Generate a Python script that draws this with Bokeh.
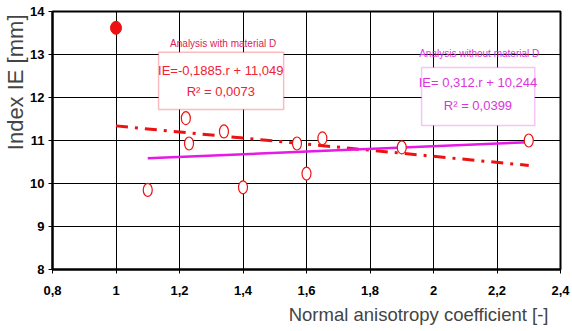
import numpy as np
from bokeh.plotting import figure
from bokeh.models import Label, BoxAnnotation, FixedTicker, CustomJSTickFormatter, Title
from bokeh.embed import file_html
from bokeh.resources import INLINE

# data
x_open = [1.10, 1.22, 1.23, 1.34, 1.40, 1.57, 1.60, 1.65, 1.90, 2.30]
y_open = [9.85, 11.52, 10.93, 11.21, 9.91, 10.93, 10.23, 11.05, 10.84, 11.00]
x_filled = [1.0]
y_filled = [13.62]
red_trend_x = [1.0, 2.3]
red_trend_y = [11.34, 10.42]
mag_trend_x = [1.1, 2.3]
mag_trend_y = [0.312 * 1.1 + 10.244, 0.312 * 2.3 + 10.244]
x_ticks = [0.8, 1.0, 1.2, 1.4, 1.6, 1.8, 2.0, 2.2, 2.4]
y_ticks = [8, 9, 10, 11, 12, 13, 14]

FONT = "Liberation Sans"

p = figure(width=572, height=331, output_backend="svg", toolbar_location=None,
           x_range=(0.8, 2.4), y_range=(8, 14),
           min_border_left=50, min_border_right=12, min_border_top=11, min_border_bottom=62)
p.background_fill_color = "white"
p.border_fill_color = "white"
p.outline_line_color = "black"
p.outline_line_width = 2

for ax in (p.xaxis[0], p.yaxis[0]):
    ax.axis_line_color = "black"
    ax.axis_line_width = 2
    ax.major_tick_line_color = "black"
    ax.major_tick_line_width = 1
    ax.major_tick_out = 4
    ax.major_tick_in = 0
    ax.minor_tick_line_color = None
    ax.major_label_text_font = FONT
    ax.major_label_text_font_style = "bold"
    ax.major_label_text_font_size = "13px"
    ax.major_label_text_color = "black"

p.xaxis.ticker = FixedTicker(ticks=x_ticks)
p.yaxis.ticker = FixedTicker(ticks=y_ticks)
fmt = CustomJSTickFormatter(code="return String(Math.round(tick*10)/10).replace('.', ',');")
p.xaxis.formatter = fmt
p.yaxis.formatter = fmt
p.xaxis.major_label_standoff = 12
p.yaxis.major_label_standoff = 4

p.add_layout(Title(text="Normal anisotropy coefficient [-]", align="right", offset=12,
                   text_font=FONT, text_font_style="normal", text_font_size="18.5px",
                   text_color="#444444", standoff=8), "below")
p.add_layout(Title(text="Index IE [mm]", align="right", offset=3,
                   text_font=FONT, text_font_style="normal", text_font_size="22px",
                   text_color="#444444", standoff=0), "left")

p.xgrid.ticker = FixedTicker(ticks=x_ticks)
p.ygrid.ticker = FixedTicker(ticks=y_ticks)
p.grid.grid_line_color = "black"
p.grid.grid_line_width = 1
p.grid.grid_line_alpha = 1

# trend lines
p.line(red_trend_x, red_trend_y, line_color="#ee1111", line_width=3, line_dash="12 7 3 7")
p.line(mag_trend_x, mag_trend_y, line_color="#e619e6", line_width=2.5)

# points
p.ellipse(x=x_open, y=y_open, width=9, height=13, width_units="screen", height_units="screen",
          fill_color="white", line_color="#ee1111", line_width=1.2)
p.ellipse(x=x_filled, y=y_filled, width=11, height=13, width_units="screen", height_units="screen",
          fill_color="#ee1111", line_color="#ee1111")

# annotation boxes
p.add_layout(BoxAnnotation(left=1.134, right=1.528, top=13.05, bottom=11.72,
                           fill_color="white", fill_alpha=1, line_color="#ee2233", line_width=1.5))
p.add_layout(BoxAnnotation(left=1.9625, right=2.319, top=12.70, bottom=11.35,
                           fill_color="white", fill_alpha=1, line_color="#e040e0", line_width=1.5))

def lab(x, y, t, color, size):
    p.add_layout(Label(x=x, y=y, text=t, text_color=color, text_font=FONT,
                       text_font_size=size, text_align="center", text_baseline="middle"))

lab(1.3375, 13.26, "Analysis with material D", "#dd2255", "10px")
lab(1.33, 12.63, "IE=-0,1885.r + 11,049", "#ee2233", "13px")
lab(1.33, 12.14, "R² = 0,0073", "#ee2233", "13px")
lab(2.144, 13.02, "Analysis without material D", "#dd33dd", "10px")
lab(2.14, 12.35, "IE= 0,312.r + 10,244", "#dd33dd", "13px")
lab(2.14, 11.81, "R² = 0,0399", "#dd33dd", "13px")

open("out.html", "w").write(file_html(p, INLINE))
